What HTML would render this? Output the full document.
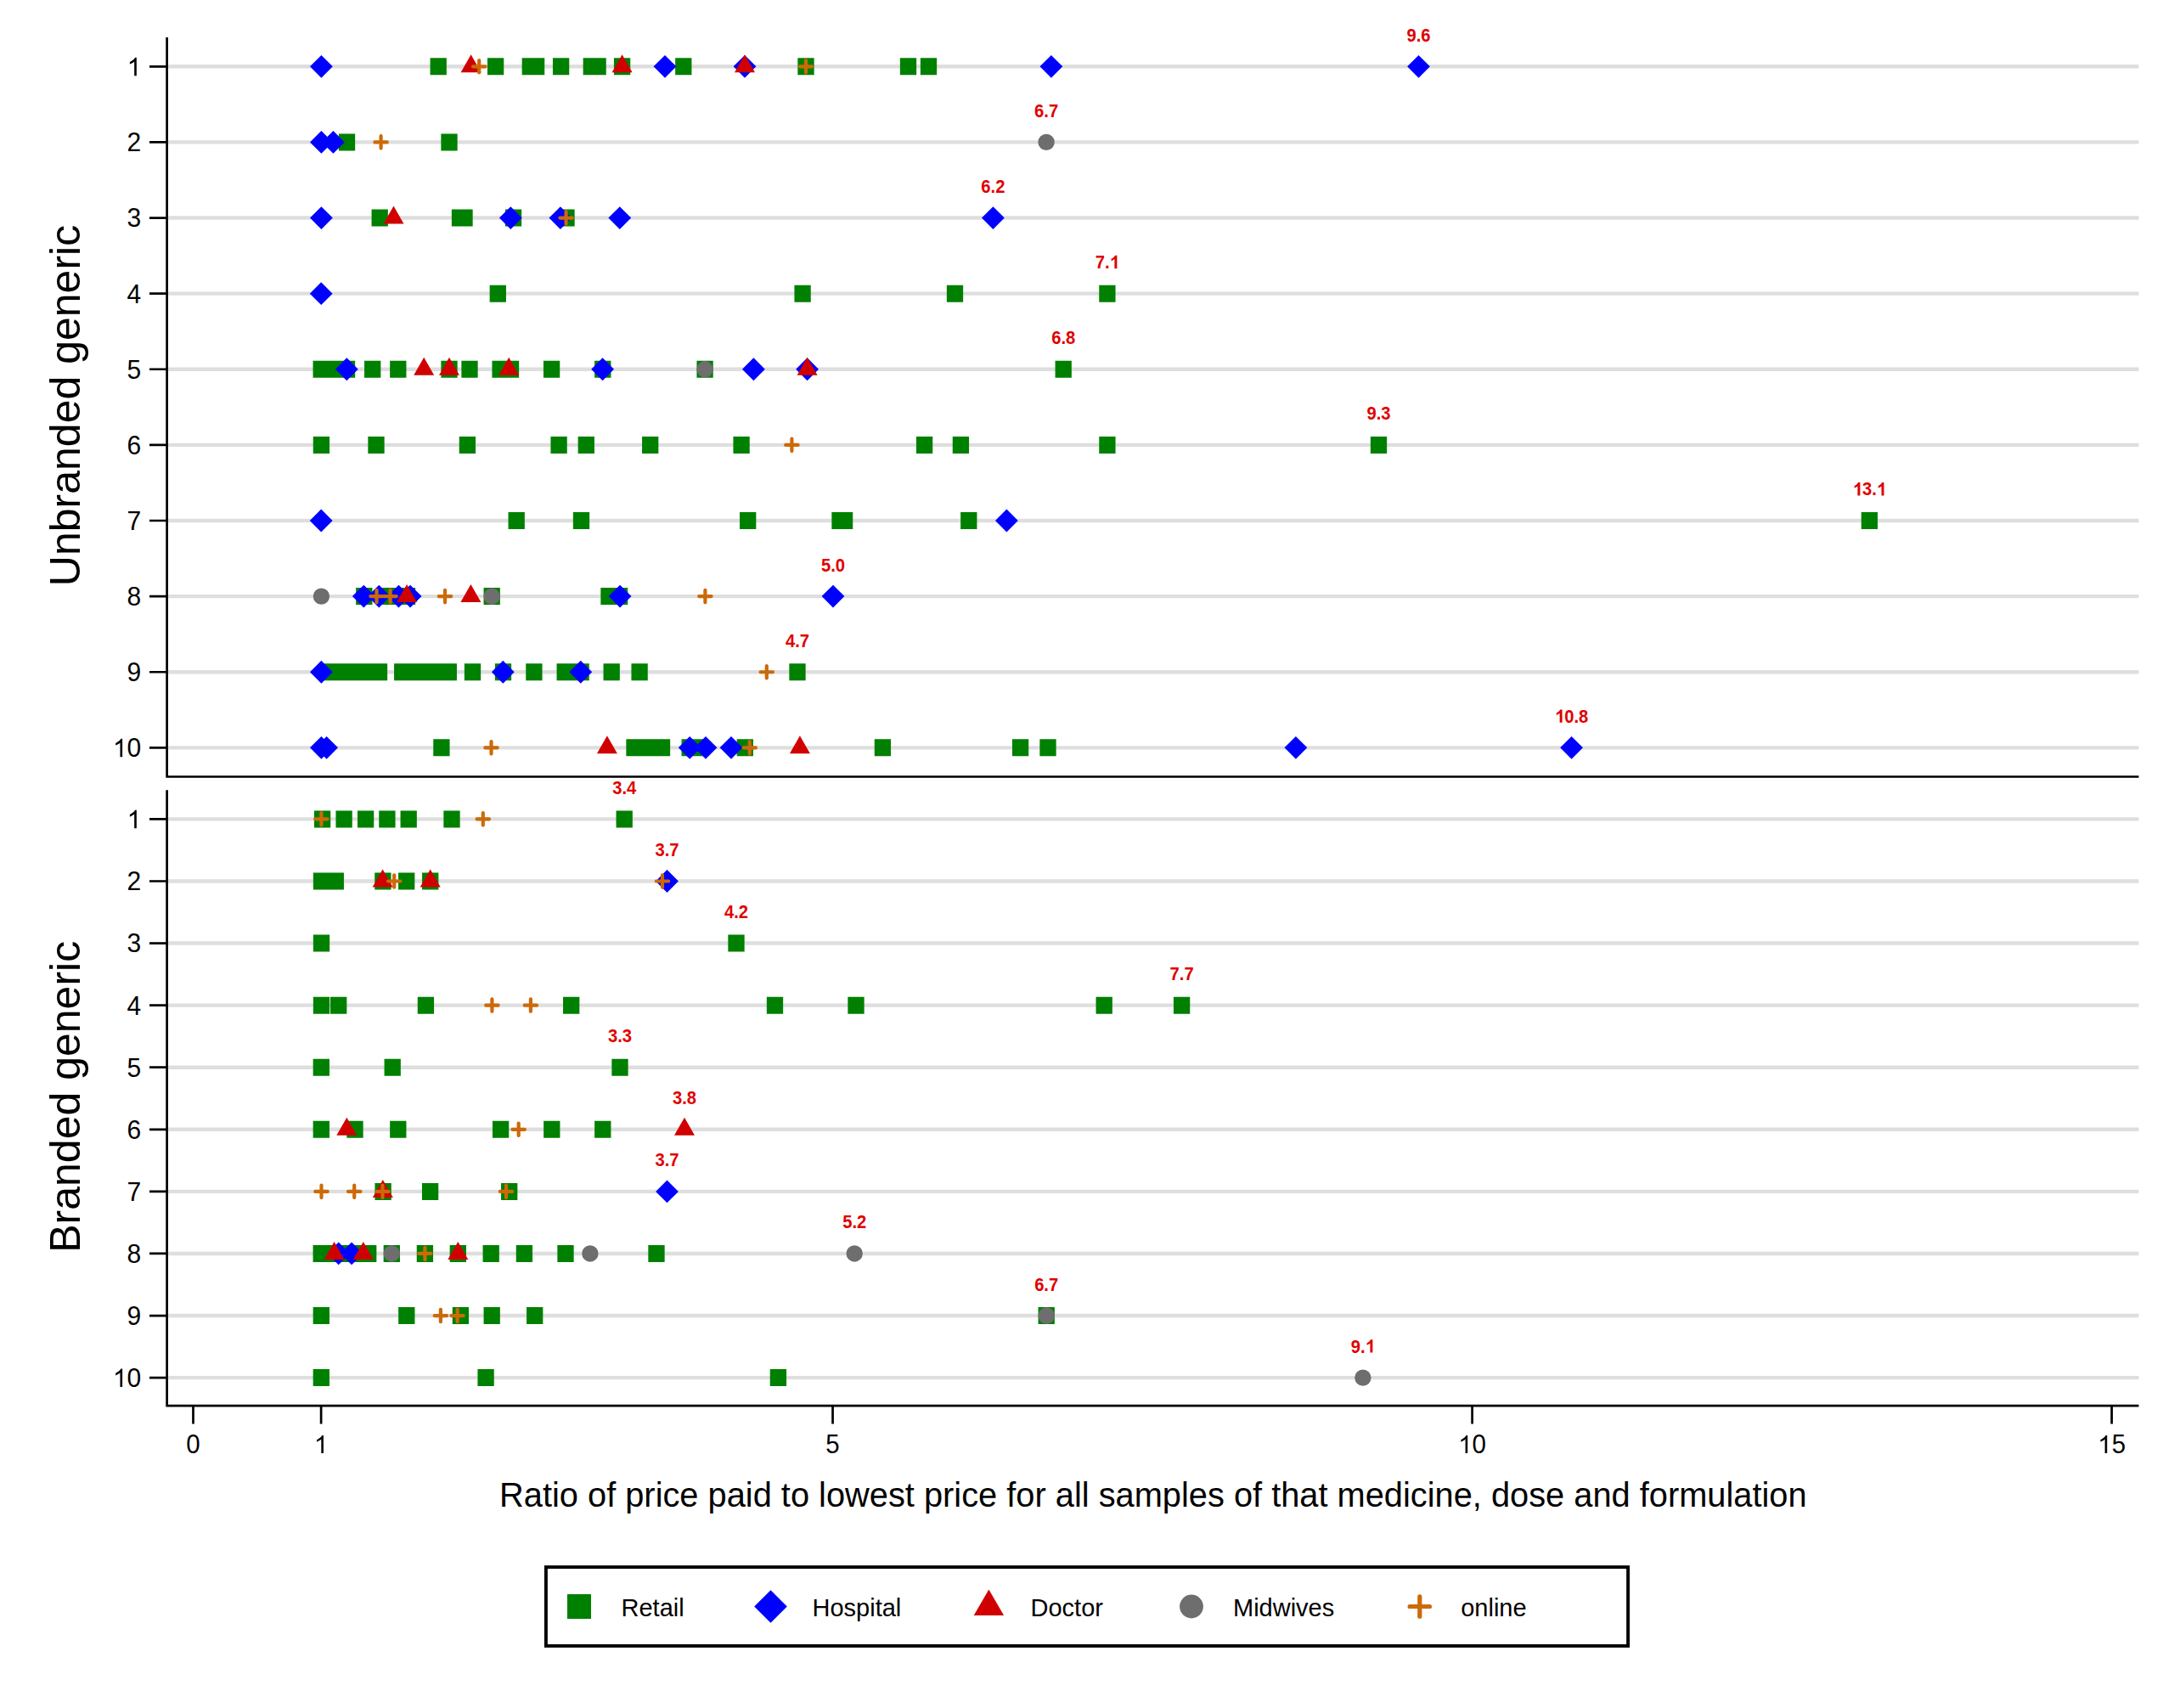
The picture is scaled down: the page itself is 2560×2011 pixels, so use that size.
<!DOCTYPE html>
<html><head><meta charset="utf-8"><title>Price ratio dot plot</title>
<style>
html,body{margin:0;padding:0;background:#fff;}
body{width:2560px;height:2011px;overflow:hidden;}
svg{display:block;}
text{font-family:"Liberation Sans",sans-serif;}
</style></head><body>
<svg width="2560" height="2011" viewBox="0 0 2560 2011">
<rect width="2560" height="2011" fill="#fff"/>
<path d="M196.6 78.3H2518.5M196.6 167.42H2518.5M196.6 256.53H2518.5M196.6 345.65H2518.5M196.6 434.77H2518.5M196.6 523.88H2518.5M196.6 613H2518.5M196.6 702.12H2518.5M196.6 791.24H2518.5M196.6 880.35H2518.5M196.6 964.4H2518.5M196.6 1037.48H2518.5M196.6 1110.56H2518.5M196.6 1183.64H2518.5M196.6 1256.72H2518.5M196.6 1329.8H2518.5M196.6 1402.88H2518.5M196.6 1475.96H2518.5M196.6 1549.04H2518.5M196.6 1622.12H2518.5" stroke="#dedede" stroke-width="4.4" fill="none"/>
<path d="M196.6 44V914.5M195.3 914.5H2518.5M196.6 930.2V1655.2M195.3 1655.2H2518.5M176 78.3H196.6M176 167.42H196.6M176 256.53H196.6M176 345.65H196.6M176 434.77H196.6M176 523.88H196.6M176 613H196.6M176 702.12H196.6M176 791.24H196.6M176 880.35H196.6M176 964.4H196.6M176 1037.48H196.6M176 1110.56H196.6M176 1183.64H196.6M176 1256.72H196.6M176 1329.8H196.6M176 1402.88H196.6M176 1475.96H196.6M176 1549.04H196.6M176 1622.12H196.6M227.5 1656.5V1676.6M378.11 1656.5V1676.6M980.55 1656.5V1676.6M1733.6 1656.5V1676.6M2486.65 1656.5V1676.6" stroke="#000" stroke-width="2.7" fill="none"/>
<g font-size="30" fill="#000"><g transform="matrix(1 0 0 1.04 0.000 -3.568)"><path transform="translate(149.62 89.2) scale(0.01465 -0.01409)" d="M763 0H583V1147Q518 1085 412 1023T222 930V1104Q373 1175 486 1276T646 1472H763Z"/></g><g transform="matrix(1 0 0 1.04 0.000 -7.133)"><text x="149.62" y="178.32">2</text></g><g transform="matrix(1 0 0 1.04 0.000 -10.697)"><text x="149.62" y="267.43">3</text></g><g transform="matrix(1 0 0 1.04 0.000 -14.262)"><text x="149.62" y="356.55">4</text></g><g transform="matrix(1 0 0 1.04 0.000 -17.827)"><text x="149.62" y="445.67">5</text></g><g transform="matrix(1 0 0 1.04 0.000 -21.391)"><text x="149.62" y="534.78">6</text></g><g transform="matrix(1 0 0 1.04 0.000 -24.956)"><text x="149.62" y="623.9">7</text></g><g transform="matrix(1 0 0 1.04 0.000 -28.521)"><text x="149.62" y="713.02">8</text></g><g transform="matrix(1 0 0 1.04 0.000 -32.085)"><text x="149.62" y="802.14">9</text></g><g transform="matrix(1 0 0 1.04 0.000 -35.650)"><path transform="translate(132.93 891.25) scale(0.01465 -0.01409)" d="M763 0H583V1147Q518 1085 412 1023T222 930V1104Q373 1175 486 1276T646 1472H763Z"/><text x="149.62" y="891.25">0</text></g><g transform="matrix(1 0 0 1.04 0.000 -39.012)"><path transform="translate(149.62 975.3) scale(0.01465 -0.01409)" d="M763 0H583V1147Q518 1085 412 1023T222 930V1104Q373 1175 486 1276T646 1472H763Z"/></g><g transform="matrix(1 0 0 1.04 0.000 -41.935)"><text x="149.62" y="1048.38">2</text></g><g transform="matrix(1 0 0 1.04 0.000 -44.858)"><text x="149.62" y="1121.46">3</text></g><g transform="matrix(1 0 0 1.04 0.000 -47.782)"><text x="149.62" y="1194.54">4</text></g><g transform="matrix(1 0 0 1.04 0.000 -50.705)"><text x="149.62" y="1267.62">5</text></g><g transform="matrix(1 0 0 1.04 0.000 -53.628)"><text x="149.62" y="1340.7">6</text></g><g transform="matrix(1 0 0 1.04 0.000 -56.551)"><text x="149.62" y="1413.78">7</text></g><g transform="matrix(1 0 0 1.04 0.000 -59.474)"><text x="149.62" y="1486.86">8</text></g><g transform="matrix(1 0 0 1.04 0.000 -62.398)"><text x="149.62" y="1559.94">9</text></g><g transform="matrix(1 0 0 1.04 0.000 -65.321)"><path transform="translate(132.93 1633.02) scale(0.01465 -0.01409)" d="M763 0H583V1147Q518 1085 412 1023T222 930V1104Q373 1175 486 1276T646 1472H763Z"/><text x="149.62" y="1633.02">0</text></g></g>
<g font-size="29.5" fill="#000"><g transform="matrix(1 0 0 1.04 0.000 -68.444)"><text x="219.3" y="1711.1">0</text></g><g transform="matrix(1 0 0 1.04 0.000 -68.444)"><path transform="translate(369.91 1711.1) scale(0.01440 -0.01385)" d="M763 0H583V1147Q518 1085 412 1023T222 930V1104Q373 1175 486 1276T646 1472H763Z"/></g><g transform="matrix(1 0 0 1.04 0.000 -68.444)"><text x="972.35" y="1711.1">5</text></g><g transform="matrix(1 0 0 1.04 0.000 -68.444)"><path transform="translate(1717.19 1711.1) scale(0.01440 -0.01385)" d="M763 0H583V1147Q518 1085 412 1023T222 930V1104Q373 1175 486 1276T646 1472H763Z"/><text x="1733.6" y="1711.1">0</text></g><g transform="matrix(1 0 0 1.04 0.000 -68.444)"><path transform="translate(2470.24 1711.1) scale(0.01440 -0.01385)" d="M763 0H583V1147Q518 1085 412 1023T222 930V1104Q373 1175 486 1276T646 1472H763Z"/><text x="2486.65" y="1711.1">5</text></g></g>
<text x="1357.85" y="1774.1" font-size="39.8" text-anchor="middle" fill="#000">Ratio of price paid to lowest price for all samples of that medicine, dose and formulation</text>
<text transform="translate(94.3 477.5) rotate(-90)" font-size="50" text-anchor="middle" fill="#000">Unbranded generic</text>
<text transform="translate(94.3 1291.3) rotate(-90)" font-size="50" text-anchor="middle" fill="#000">Branded generic</text>
<path fill="#008000" d="M506.55 68.3h19.3v20h-19.3zM573.95 68.3h19.3v20h-19.3zM614.65 68.3h19.3v20h-19.3zM621.95 68.3h19.3v20h-19.3zM650.95 68.3h19.3v20h-19.3zM686.65 68.3h19.3v20h-19.3zM694.45 68.3h19.3v20h-19.3zM722.95 68.3h19.3v20h-19.3zM795.15 68.3h19.3v20h-19.3zM939.35 68.3h19.3v20h-19.3zM1059.85 68.3h19.3v20h-19.3zM1083.85 68.3h19.3v20h-19.3zM398.85 157.42h19.3v20h-19.3zM519.35 157.42h19.3v20h-19.3zM437.55 246.53h19.3v20h-19.3zM531.85 246.53h19.3v20h-19.3zM537.35 246.53h19.3v20h-19.3zM594.85 246.53h19.3v20h-19.3zM657.35 246.53h19.3v20h-19.3zM576.65 335.65h19.3v20h-19.3zM935.45 335.65h19.3v20h-19.3zM1114.85 335.65h19.3v20h-19.3zM1294.25 335.65h19.3v20h-19.3zM368.55 424.77h19.3v20h-19.3zM383.35 424.77h19.3v20h-19.3zM398.85 424.77h19.3v20h-19.3zM429.05 424.77h19.3v20h-19.3zM459.15 424.77h19.3v20h-19.3zM519.35 424.77h19.3v20h-19.3zM543.35 424.77h19.3v20h-19.3zM579.45 424.77h19.3v20h-19.3zM591.85 424.77h19.3v20h-19.3zM639.95 424.77h19.3v20h-19.3zM700.15 424.77h19.3v20h-19.3zM820.45 424.77h19.3v20h-19.3zM1242.55 424.77h19.3v20h-19.3zM368.75 513.88h19.3v20h-19.3zM433.35 513.88h19.3v20h-19.3zM540.75 513.88h19.3v20h-19.3zM648.45 513.88h19.3v20h-19.3zM680.65 513.88h19.3v20h-19.3zM756.05 513.88h19.3v20h-19.3zM863.45 513.88h19.3v20h-19.3zM1078.95 513.88h19.3v20h-19.3zM1121.75 513.88h19.3v20h-19.3zM1294.25 513.88h19.3v20h-19.3zM1613.85 513.88h19.3v20h-19.3zM598.55 603h19.3v20h-19.3zM674.85 603h19.3v20h-19.3zM871.05 603h19.3v20h-19.3zM979.35 603h19.3v20h-19.3zM984.95 603h19.3v20h-19.3zM1131.15 603h19.3v20h-19.3zM2191.75 603h19.3v20h-19.3zM419.15 692.12h19.3v20h-19.3zM444.15 692.12h19.3v20h-19.3zM460.35 692.12h19.3v20h-19.3zM469.85 692.12h19.3v20h-19.3zM569.55 692.12h19.3v20h-19.3zM707.35 692.12h19.3v20h-19.3zM719.95 692.12h19.3v20h-19.3zM378.95 781.24h19.3v20h-19.3zM390.35 781.24h19.3v20h-19.3zM402.35 781.24h19.3v20h-19.3zM414.35 781.24h19.3v20h-19.3zM426.35 781.24h19.3v20h-19.3zM436.85 781.24h19.3v20h-19.3zM464.05 781.24h19.3v20h-19.3zM475.35 781.24h19.3v20h-19.3zM487.35 781.24h19.3v20h-19.3zM499.35 781.24h19.3v20h-19.3zM511.35 781.24h19.3v20h-19.3zM518.65 781.24h19.3v20h-19.3zM546.85 781.24h19.3v20h-19.3zM582.85 781.24h19.3v20h-19.3zM619.25 781.24h19.3v20h-19.3zM655.55 781.24h19.3v20h-19.3zM674.45 781.24h19.3v20h-19.3zM710.55 781.24h19.3v20h-19.3zM743.45 781.24h19.3v20h-19.3zM929.35 781.24h19.3v20h-19.3zM510.25 870.35h19.3v20h-19.3zM737.35 870.35h19.3v20h-19.3zM750.35 870.35h19.3v20h-19.3zM760.35 870.35h19.3v20h-19.3zM769.85 870.35h19.3v20h-19.3zM802.55 870.35h19.3v20h-19.3zM810.35 870.35h19.3v20h-19.3zM867.65 870.35h19.3v20h-19.3zM1029.75 870.35h19.3v20h-19.3zM1191.95 870.35h19.3v20h-19.3zM1224.35 870.35h19.3v20h-19.3zM369.95 954.4h19.3v20h-19.3zM395.45 954.4h19.3v20h-19.3zM420.95 954.4h19.3v20h-19.3zM446.25 954.4h19.3v20h-19.3zM471.55 954.4h19.3v20h-19.3zM522.35 954.4h19.3v20h-19.3zM725.55 954.4h19.3v20h-19.3zM368.85 1027.48h19.3v20h-19.3zM377.35 1027.48h19.3v20h-19.3zM385.65 1027.48h19.3v20h-19.3zM441.25 1027.48h19.3v20h-19.3zM469.05 1027.48h19.3v20h-19.3zM497.05 1027.48h19.3v20h-19.3zM368.85 1100.56h19.3v20h-19.3zM857.35 1100.56h19.3v20h-19.3zM368.85 1173.64h19.3v20h-19.3zM389.05 1173.64h19.3v20h-19.3zM491.75 1173.64h19.3v20h-19.3zM663.05 1173.64h19.3v20h-19.3zM902.85 1173.64h19.3v20h-19.3zM998.35 1173.64h19.3v20h-19.3zM1290.55 1173.64h19.3v20h-19.3zM1381.95 1173.64h19.3v20h-19.3zM368.65 1246.72h19.3v20h-19.3zM452.55 1246.72h19.3v20h-19.3zM720.35 1246.72h19.3v20h-19.3zM368.65 1319.8h19.3v20h-19.3zM408.35 1319.8h19.3v20h-19.3zM459.15 1319.8h19.3v20h-19.3zM579.95 1319.8h19.3v20h-19.3zM640.15 1319.8h19.3v20h-19.3zM700.15 1319.8h19.3v20h-19.3zM441.45 1392.88h19.3v20h-19.3zM496.95 1392.88h19.3v20h-19.3zM590.05 1392.88h19.3v20h-19.3zM368.55 1465.96h19.3v20h-19.3zM380.35 1465.96h19.3v20h-19.3zM392.35 1465.96h19.3v20h-19.3zM404.35 1465.96h19.3v20h-19.3zM414.35 1465.96h19.3v20h-19.3zM424.05 1465.96h19.3v20h-19.3zM451.65 1465.96h19.3v20h-19.3zM490.75 1465.96h19.3v20h-19.3zM529.65 1465.96h19.3v20h-19.3zM568.55 1465.96h19.3v20h-19.3zM607.75 1465.96h19.3v20h-19.3zM656.35 1465.96h19.3v20h-19.3zM763.35 1465.96h19.3v20h-19.3zM368.65 1539.04h19.3v20h-19.3zM469.15 1539.04h19.3v20h-19.3zM532.75 1539.04h19.3v20h-19.3zM569.55 1539.04h19.3v20h-19.3zM620.05 1539.04h19.3v20h-19.3zM1222.55 1539.04h19.3v20h-19.3zM368.65 1612.12h19.3v20h-19.3zM562.45 1612.12h19.3v20h-19.3zM906.75 1612.12h19.3v20h-19.3z"/>
<path fill="#0000ff" d="M378.4 64.9l13.4 13.4l-13.4 13.4l-13.4 -13.4zM783 64.9l13.4 13.4l-13.4 13.4l-13.4 -13.4zM877 64.9l13.4 13.4l-13.4 13.4l-13.4 -13.4zM1237.9 64.9l13.4 13.4l-13.4 13.4l-13.4 -13.4zM1670.5 64.9l13.4 13.4l-13.4 13.4l-13.4 -13.4zM378.4 154.02l13.4 13.4l-13.4 13.4l-13.4 -13.4zM392.4 154.02l13.4 13.4l-13.4 13.4l-13.4 -13.4zM378.4 243.13l13.4 13.4l-13.4 13.4l-13.4 -13.4zM601.3 243.13l13.4 13.4l-13.4 13.4l-13.4 -13.4zM659.9 243.13l13.4 13.4l-13.4 13.4l-13.4 -13.4zM729.8 243.13l13.4 13.4l-13.4 13.4l-13.4 -13.4zM1169.4 243.13l13.4 13.4l-13.4 13.4l-13.4 -13.4zM378.2 332.25l13.4 13.4l-13.4 13.4l-13.4 -13.4zM408.3 421.37l13.4 13.4l-13.4 13.4l-13.4 -13.4zM709.6 421.37l13.4 13.4l-13.4 13.4l-13.4 -13.4zM887.4 421.37l13.4 13.4l-13.4 13.4l-13.4 -13.4zM950.6 421.37l13.4 13.4l-13.4 13.4l-13.4 -13.4zM378.2 599.6l13.4 13.4l-13.4 13.4l-13.4 -13.4zM1185.4 599.6l13.4 13.4l-13.4 13.4l-13.4 -13.4zM428.3 688.72l13.4 13.4l-13.4 13.4l-13.4 -13.4zM446.3 688.72l13.4 13.4l-13.4 13.4l-13.4 -13.4zM469.5 688.72l13.4 13.4l-13.4 13.4l-13.4 -13.4zM483.1 688.72l13.4 13.4l-13.4 13.4l-13.4 -13.4zM730.1 688.72l13.4 13.4l-13.4 13.4l-13.4 -13.4zM981 688.72l13.4 13.4l-13.4 13.4l-13.4 -13.4zM378.4 777.84l13.4 13.4l-13.4 13.4l-13.4 -13.4zM592.3 777.84l13.4 13.4l-13.4 13.4l-13.4 -13.4zM683.8 777.84l13.4 13.4l-13.4 13.4l-13.4 -13.4zM378.4 866.95l13.4 13.4l-13.4 13.4l-13.4 -13.4zM384.6 866.95l13.4 13.4l-13.4 13.4l-13.4 -13.4zM812.2 866.95l13.4 13.4l-13.4 13.4l-13.4 -13.4zM831 866.95l13.4 13.4l-13.4 13.4l-13.4 -13.4zM861 866.95l13.4 13.4l-13.4 13.4l-13.4 -13.4zM1525.9 866.95l13.4 13.4l-13.4 13.4l-13.4 -13.4zM1850.6 866.95l13.4 13.4l-13.4 13.4l-13.4 -13.4zM785.5 1024.08l13.4 13.4l-13.4 13.4l-13.4 -13.4zM785.5 1389.48l13.4 13.4l-13.4 13.4l-13.4 -13.4zM398.7 1462.56l13.4 13.4l-13.4 13.4l-13.4 -13.4zM414.1 1462.56l13.4 13.4l-13.4 13.4l-13.4 -13.4z"/>
<path fill="#d00000" d="M554.6 64.3L566.6 85.3L542.6 85.3zM732.6 64.3L744.6 85.3L720.6 85.3zM877 64.3L889 85.3L865 85.3zM463.5 242.53L475.5 263.53L451.5 263.53zM499.2 420.77L511.2 441.77L487.2 441.77zM529 420.77L541 441.77L517 441.77zM599.2 420.77L611.2 441.77L587.2 441.77zM950.6 420.77L962.6 441.77L938.6 441.77zM479.1 688.12L491.1 709.12L467.1 709.12zM554.4 688.12L566.4 709.12L542.4 709.12zM714.9 866.35L726.9 887.35L702.9 887.35zM941.9 866.35L953.9 887.35L929.9 887.35zM450.6 1023.48L462.6 1044.48L438.6 1044.48zM506.7 1023.48L518.7 1044.48L494.7 1044.48zM408.3 1315.8L420.3 1336.8L396.3 1336.8zM806 1315.8L818 1336.8L794 1336.8zM450.8 1388.88L462.8 1409.88L438.8 1409.88zM393.6 1461.96L405.6 1482.96L381.6 1482.96zM427.8 1461.96L439.8 1482.96L415.8 1482.96zM539.3 1461.96L551.3 1482.96L527.3 1482.96z"/>
<path fill="#6e6e6e" d="M1222.4 167.42a9.7 9.7 0 1 0 19.4 0a9.7 9.7 0 1 0 -19.4 0zM820.4 434.77a9.7 9.7 0 1 0 19.4 0a9.7 9.7 0 1 0 -19.4 0zM368.7 702.12a9.7 9.7 0 1 0 19.4 0a9.7 9.7 0 1 0 -19.4 0zM569.5 702.12a9.7 9.7 0 1 0 19.4 0a9.7 9.7 0 1 0 -19.4 0zM451.6 1475.96a9.7 9.7 0 1 0 19.4 0a9.7 9.7 0 1 0 -19.4 0zM685.2 1475.96a9.7 9.7 0 1 0 19.4 0a9.7 9.7 0 1 0 -19.4 0zM996.5 1475.96a9.7 9.7 0 1 0 19.4 0a9.7 9.7 0 1 0 -19.4 0zM1222.5 1549.04a9.7 9.7 0 1 0 19.4 0a9.7 9.7 0 1 0 -19.4 0zM1595.2 1622.12a9.7 9.7 0 1 0 19.4 0a9.7 9.7 0 1 0 -19.4 0z"/>
<path stroke="#cc6a08" stroke-width="4.2" stroke-linecap="round" fill="none" d="M557 78.3h14.4M564.2 71.1v14.4M941.8 78.3h14.4M949 71.1v14.4M441.4 167.42h14.4M448.6 160.22v14.4M659.4 256.53h14.4M666.6 249.33v14.4M925.2 523.88h14.4M932.4 516.68v14.4M436.3 702.12h14.4M443.5 694.92v14.4M452.4 702.12h14.4M459.6 694.92v14.4M516.8 702.12h14.4M524 694.92v14.4M823.2 702.12h14.4M830.4 694.92v14.4M895.6 791.24h14.4M902.8 784.04v14.4M571.3 880.35h14.4M578.5 873.15v14.4M875.6 880.35h14.4M882.8 873.15v14.4M371.2 964.4h14.4M378.4 957.2v14.4M561.6 964.4h14.4M568.8 957.2v14.4M457 1037.48h14.4M464.2 1030.28v14.4M772.8 1037.48h14.4M780 1030.28v14.4M572.2 1183.64h14.4M579.4 1176.44v14.4M617.7 1183.64h14.4M624.9 1176.44v14.4M603.5 1329.8h14.4M610.7 1322.6v14.4M371.3 1402.88h14.4M378.5 1395.68v14.4M410 1402.88h14.4M417.2 1395.68v14.4M443.3 1402.88h14.4M450.5 1395.68v14.4M588.8 1402.88h14.4M596 1395.68v14.4M493.2 1475.96h14.4M500.4 1468.76v14.4M511.7 1549.04h14.4M518.9 1541.84v14.4M531.4 1549.04h14.4M538.6 1541.84v14.4"/>
<g font-size="21.5" font-weight="bold" fill="#e00000"><g transform="matrix(0.94 0 0 1.04 100.230 -1.952)"><text x="1655.56" y="48.8">9.6</text></g><g transform="matrix(0.94 0 0 1.04 73.926 -5.517)"><text x="1217.16" y="137.92">6.7</text></g><g transform="matrix(0.94 0 0 1.04 70.164 -9.081)"><text x="1154.46" y="227.03">6.2</text></g><g transform="matrix(0.94 0 0 1.04 78.234 -12.646)"><text x="1288.96" y="316.15">7.</text><path transform="translate(1306.89 316.15) scale(0.01117 -0.01009)" d="M824 0H543V1059Q389 915 180 846V1101Q290 1137 419 1237T596 1472H824Z"/></g><g transform="matrix(0.94 0 0 1.04 75.132 -16.211)"><text x="1237.26" y="405.27">6.8</text></g><g transform="matrix(0.94 0 0 1.04 97.410 -19.775)"><text x="1608.56" y="494.38">9.3</text></g><g transform="matrix(0.94 0 0 1.04 132.084 -23.340)"><path transform="translate(2180.48 583.5) scale(0.01117 -0.01009)" d="M824 0H543V1059Q389 915 180 846V1101Q290 1137 419 1237T596 1472H824Z"/><text x="2192.43" y="583.5">3.</text><path transform="translate(2210.37 583.5) scale(0.01117 -0.01009)" d="M824 0H543V1059Q389 915 180 846V1101Q290 1137 419 1237T596 1472H824Z"/></g><g transform="matrix(0.94 0 0 1.04 58.860 -26.905)"><text x="966.06" y="672.62">5.0</text></g><g transform="matrix(0.94 0 0 1.04 56.340 -30.469)"><text x="924.06" y="761.74">4.7</text></g><g transform="matrix(0.94 0 0 1.04 111.036 -34.034)"><path transform="translate(1829.68 850.85) scale(0.01117 -0.01009)" d="M824 0H543V1059Q389 915 180 846V1101Q290 1137 419 1237T596 1472H824Z"/><text x="1841.63" y="850.85">0.8</text></g><g transform="matrix(0.94 0 0 1.04 44.112 -37.396)"><text x="720.26" y="934.9">3.4</text></g><g transform="matrix(0.94 0 0 1.04 47.130 -40.319)"><text x="770.56" y="1007.98">3.7</text></g><g transform="matrix(0.94 0 0 1.04 52.020 -43.242)"><text x="852.06" y="1081.06">4.2</text></g><g transform="matrix(0.94 0 0 1.04 83.496 -46.166)"><text x="1376.66" y="1154.14">7.7</text></g><g transform="matrix(0.94 0 0 1.04 43.800 -49.089)"><text x="715.06" y="1227.22">3.3</text></g><g transform="matrix(0.94 0 0 1.04 48.360 -52.012)"><text x="791.06" y="1300.3">3.8</text></g><g transform="matrix(0.94 0 0 1.04 47.130 -54.935)"><text x="770.56" y="1373.38">3.7</text></g><g transform="matrix(0.94 0 0 1.04 60.372 -57.858)"><text x="991.26" y="1446.46">5.2</text></g><g transform="matrix(0.94 0 0 1.04 73.932 -60.782)"><text x="1217.26" y="1519.54">6.7</text></g><g transform="matrix(0.94 0 0 1.04 96.294 -63.705)"><text x="1589.96" y="1592.62">9.</text><path transform="translate(1607.89 1592.62) scale(0.01117 -0.01009)" d="M824 0H543V1059Q389 915 180 846V1101Q290 1137 419 1237T596 1472H824Z"/></g></g>
<rect x="642.9" y="1845.1" width="1274.2" height="92.8" fill="none" stroke="#000" stroke-width="3.9"/>
<rect x="668" y="1877" width="28" height="29" fill="#008000"/>
<path fill="#0000ff" d="M907.5 1872.2l19.3 19.3l-19.3 19.3l-19.3 -19.3z"/>
<path fill="#d00000" d="M1164.4 1871.5L1182.1 1902.1L1146.7 1902.1z"/>
<circle cx="1403" cy="1891.5" r="13.9" fill="#6e6e6e"/>
<path stroke="#cc6a08" stroke-width="5.2" stroke-linecap="round" fill="none" d="M1660.1 1891.5h23.4M1671.8 1879.8v23.4"/>
<g font-size="29" fill="#000"><text x="731.5" y="1903">Retail</text><text x="956.5" y="1903">Hospital</text><text x="1213.5" y="1903">Doctor</text><text x="1452" y="1903">Midwives</text><text x="1720.2" y="1903">online</text></g>
</svg>
</body></html>
